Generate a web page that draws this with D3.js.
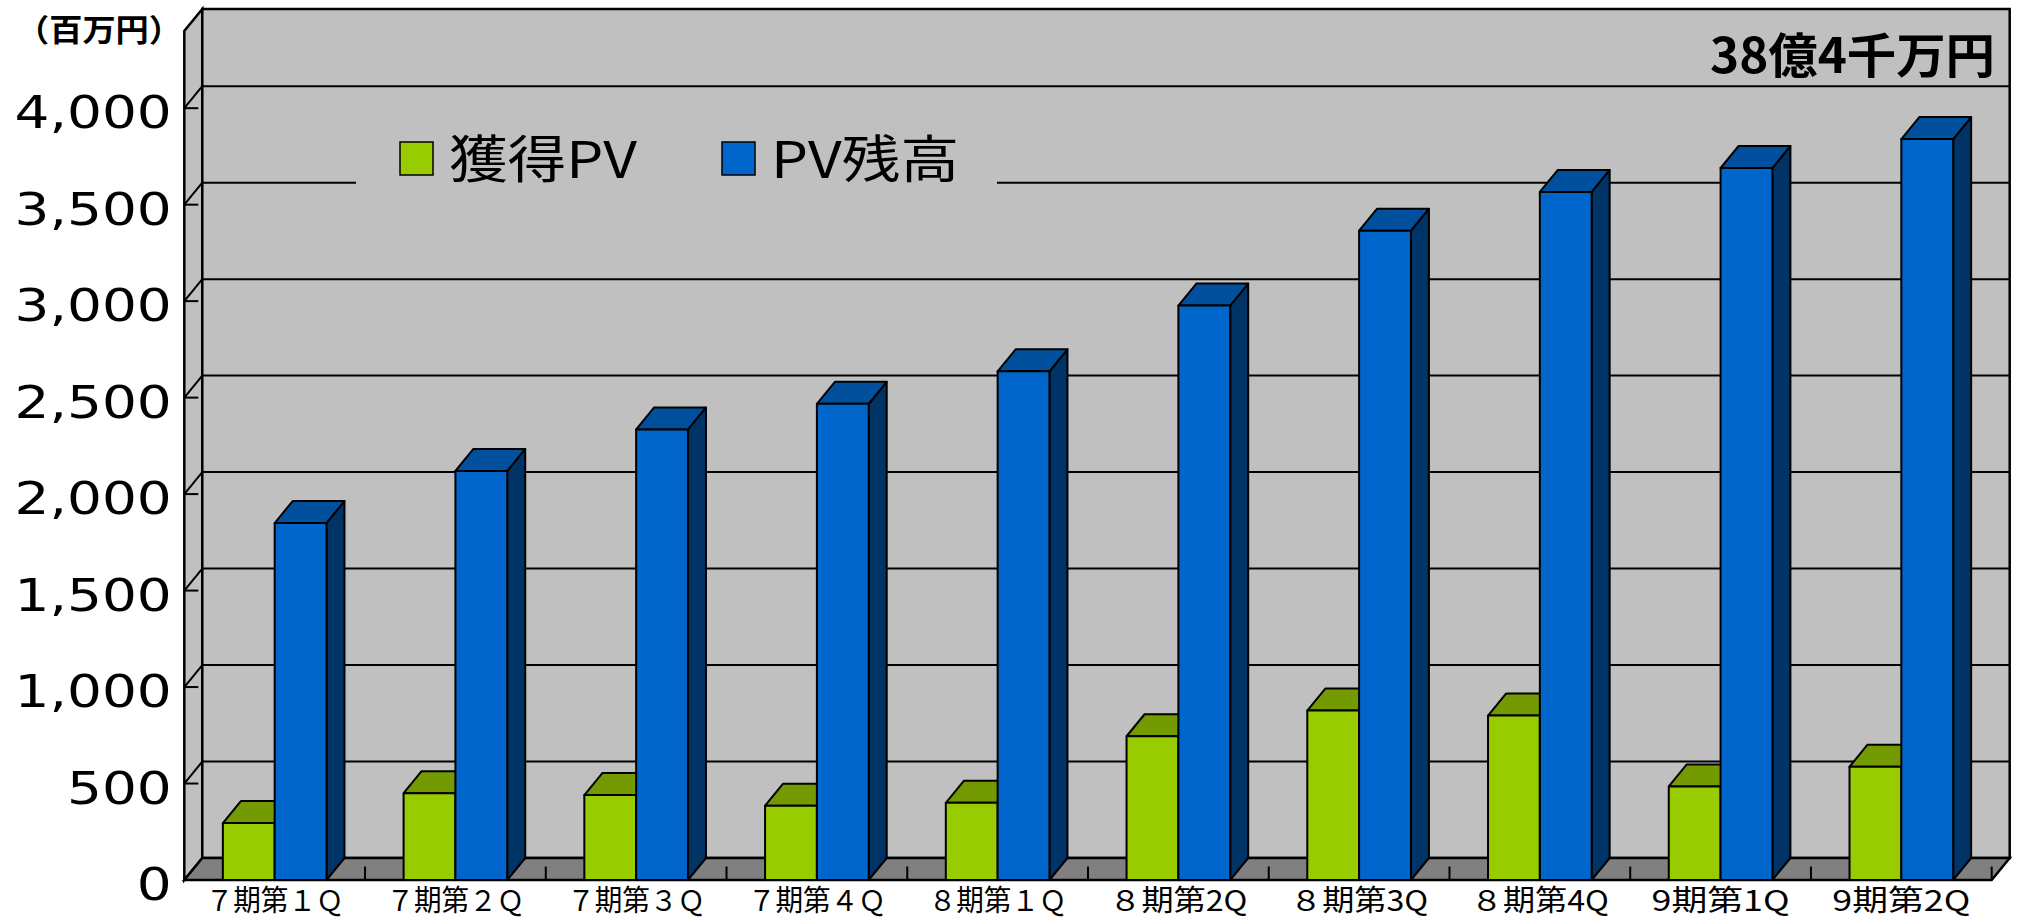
<!DOCTYPE html>
<html>
<head>
<meta charset="utf-8">
<script src="https://cdn.jsdelivr.net/npm/d3@7"></script>
<style>
html,body{margin:0;padding:0;background:#fff;}
svg{display:block;font-family:"Noto Sans CJK JP",sans-serif;}
</style>
</head>
<body>
<div id="chart"></div>
<script>
var categories = ['７期第１Ｑ','７期第２Ｑ','７期第３Ｑ','７期第４Ｑ','８期第１Ｑ','８期第2Q','８期第3Q','８期第4Q','9期第1Q','9期第2Q']
var seriesNames = ['獲得PV','PV残高']
var acquiredPV = [295,450,440,385,400,745,878,852,485,587]
var pvBalance = [1850,2120,2335,2468,2636,2977,3365,3566,3690,3840]
var yTicks = [0,500,1000,1500,2000,2500,3000,3500,4000]
var unitLabel = '（百万円）'
var totalLabel = '38億4千万円'

var width = 2024, height = 920
var DX = 18, DY = -22   // depth of the 3d box
var left = 184.3, right = 1991.7, floorY = 880, topY = 9
var colors = {
  '獲得PV': {front:'#99CC00', top:'#739A00', side:'#4D6600'},
  'PV残高': {front:'#0066CC', top:'#00509E', side:'#003366'}
}

var svg = d3.select('#chart').append('svg').attr('width',width).attr('height',height)

var x0 = d3.scaleBand().domain(categories).range([left,right]).padding(0)
var x1 = d3.scaleBand().domain(seriesNames).range([0,x0.bandwidth()]).paddingInner(0).paddingOuter(0.744)
var y = d3.scaleLinear().domain([0,4400]).range([floorY+DY,topY])

var pts = a => a.map(p => p.join(',')).join(' ')

// walls + floor
svg.append('polygon').attr('points',pts([[left,floorY],[left,topY-DY],[left+DX,topY],[left+DX,floorY+DY]]))
  .attr('fill','#C0C0C0').attr('stroke','#000').attr('stroke-width',2.5)
svg.append('rect').attr('x',left+DX).attr('y',topY).attr('width',right-left).attr('height',floorY+DY-topY)
  .attr('fill','#C0C0C0').attr('stroke','#000').attr('stroke-width',2.5)
svg.append('polygon').attr('points',pts([[left,floorY],[right,floorY],[right+DX,floorY+DY],[left+DX,floorY+DY]]))
  .attr('fill','#808080').attr('stroke','#000').attr('stroke-width',2.5)

// gridlines
var grid = svg.append('g').attr('stroke','#000').attr('stroke-width',2)
yTicks.filter(v => v>0).forEach(v => {
  grid.append('line').attr('x1',left+DX).attr('x2',right+DX).attr('y1',y(v)).attr('y2',y(v))
  grid.append('line').attr('x1',left).attr('y1',y(v)-DY).attr('x2',left+DX).attr('y2',y(v))
  grid.append('line').attr('x1',left).attr('y1',y(v)-DY).attr('x2',left+14).attr('y2',y(v)-DY)
})
categories.forEach(c => {
  var xx = x0(c)+x0.step()
  grid.append('line').attr('x1',xx).attr('x2',xx).attr('y1',floorY-13.5).attr('y2',floorY)
})

// legend (drawn over the gridline)
var legend = svg.append('g')
legend.append('rect').attr('x',356).attr('y',125).attr('width',641).attr('height',72).attr('fill','#C0C0C0')
var legX = [400,722]
seriesNames.forEach((s,i) => {
  legend.append('rect').attr('x',legX[i]).attr('y',142).attr('width',33).attr('height',33)
    .attr('fill',colors[s].front).attr('stroke','#000').attr('stroke-width',1.5)
  legend.append('text').attr('x',legX[i]+49).attr('y',178).attr('font-size',51).attr('fill','#000')
    .attr('textLength',188).attr('lengthAdjust','spacingAndGlyphs').text(s)
})

// bars
var rows = categories.map((c,i) => ({cat:c, vals:[acquiredPV[i],pvBalance[i]]}))
var barG = svg.append('g').attr('stroke','#000').attr('stroke-width',2).attr('stroke-linejoin','round')
rows.forEach(r => {
  seriesNames.forEach((s,j) => {
    var x = x0(r.cat)+x1(s), w = x1.bandwidth(), yf = y(r.vals[j])-DY
    var col = colors[s]
    barG.append('polygon').attr('fill',col.side)
      .attr('points',pts([[x+w,yf],[x+w+DX,yf+DY],[x+w+DX,floorY+DY],[x+w,floorY]]))
    barG.append('polygon').attr('fill',col.top)
      .attr('points',pts([[x,yf],[x+w,yf],[x+w+DX,yf+DY],[x+DX,yf+DY]]))
    barG.append('rect').attr('fill',col.front).attr('x',x).attr('y',yf).attr('width',w).attr('height',floorY-yf)
  })
})

// y axis labels
var yAxis = svg.append('g').attr('transform',`translate(${left},${-DY})`)
  .call(d3.axisLeft(y).tickValues(yTicks).tickFormat(d3.format(',')).tickSize(0).tickPadding(10.3))
yAxis.select('.domain').remove()
yAxis.selectAll('text').attr('font-family','"DejaVu Sans"').attr('font-size',45).attr('dy','0.44em')
  .attr('transform','scale(1.22,1)').attr('fill','#000')

// x axis labels
var xAxis = svg.append('g').attr('transform',`translate(0,${floorY})`)
  .call(d3.axisBottom(x0).tickSize(0))
xAxis.select('.domain').remove()
xAxis.selectAll('text').attr('y',31).attr('dy',0).attr('font-size',29)
  .attr('font-family','"Noto Sans CJK JP"').attr('fill','#000')
  .attr('textLength',138).attr('lengthAdjust','spacingAndGlyphs')

// unit + total
svg.append('text').attr('x',16).attr('y',41).attr('font-size',31).attr('font-weight','bold')
  .attr('textLength',166).attr('lengthAdjust','spacingAndGlyphs').text(unitLabel)
svg.append('text').attr('x',1710).attr('y',73).attr('font-size',48).attr('font-weight','bold')
  .attr('textLength',285).attr('lengthAdjust','spacingAndGlyphs').text(totalLabel)
</script>
</body>
</html>
